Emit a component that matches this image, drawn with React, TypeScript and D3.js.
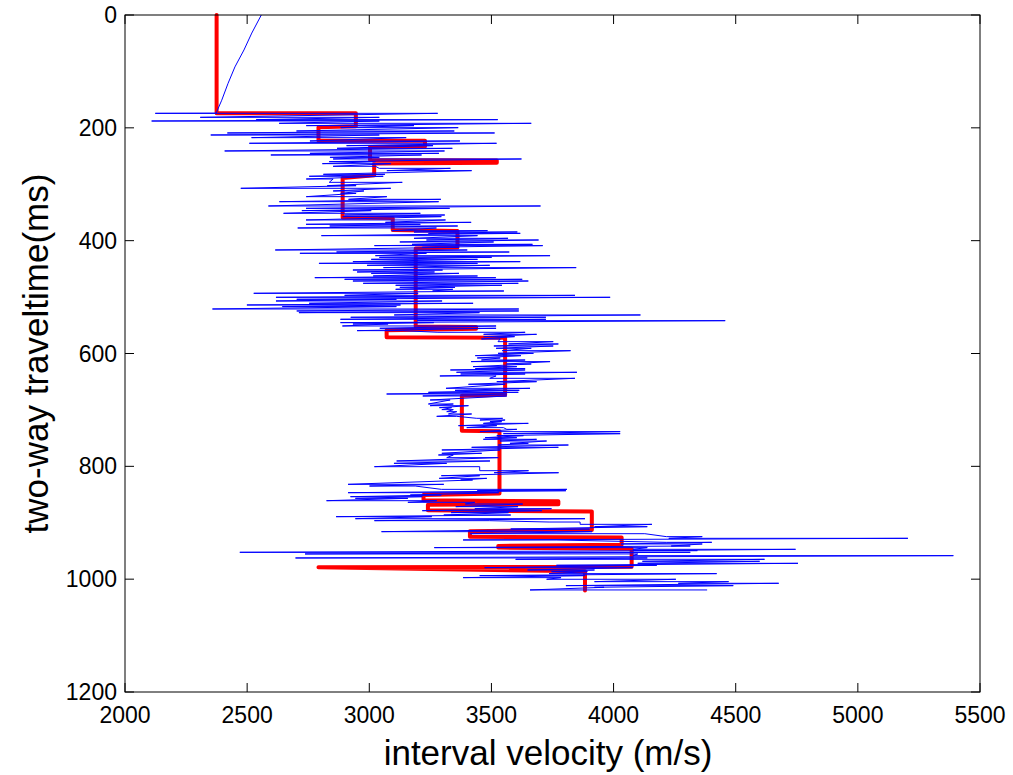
import React from 'react';
import * as d3 from 'd3';

const velTicks = [2000, 2500, 3000, 3500, 4000, 4500, 5000, 5500];
const timeTicks = [0, 200, 400, 600, 800, 1000, 1200];

// shallow part of the log, before the noisy section starts
const shallowTime = [0, 32, 62, 92, 121, 151, 174];
const shallowVel = [2558, 2519, 2487, 2450, 2422, 2396, 2373];

// noisy log: one swing per row -> [time, low vel, high vel]
const logSwings: number[][] = [
  [174.3, 2124, 3280], [181.4, 2308, 3041], [185.5, 2537, 3526], [187.9, 2109, 3041],
  [192.0, 2631, 3663], [196.1, 2742, 3183], [199.7, 2883, 3364], [205.6, 2702, 3348],
  [209.1, 2419, 3513], [212.7, 2351, 3041], [217.4, 2518, 3151], [223.3, 2757, 3371],
  [227.4, 2509, 3521], [231.6, 2907, 3261], [236.3, 2868, 3340], [241.0, 2408, 3308],
  [245.2, 2757, 3285], [248.1, 2597, 3214], [252.3, 2839, 3041], [255.2, 2852, 3623],
  [259.9, 2836, 3025], [263.5, 2808, 3088], [268.2, 2852, 3025], [271.8, 3041, 3332],
  [275.9, 3072, 3419], [282.4, 2812, 3064], [285.9, 2754, 3057], [290.7, 2742, 2852],
  [296.6, 2836, 3135], [302.5, 2828, 2946], [307.2, 2474, 3088], [311.9, 2852, 2978],
  [316.1, 2883, 2946], [322.0, 2742, 3072], [326.7, 2915, 3293], [330.9, 2632, 3284],
  [338.5, 2587, 3701], [342.7, 2741, 3329], [346.8, 2724, 3008], [351.5, 2649, 3209],
  [354.5, 2899, 3309], [357.4, 2891, 3295], [363.3, 2741, 3312], [367.5, 3066, 3417],
  [371.0, 2741, 3209], [374.0, 2838, 3362], [377.5, 2707, 3275], [382.3, 3092, 3484],
  [384.6, 3183, 3606], [387.0, 3242, 3618], [391.1, 2804, 3443], [395.8, 3183, 3568],
  [398.8, 3234, 3693], [402.3, 3125, 3509], [406.5, 3175, 3668], [408.8, 3021, 3710],
  [411.8, 3217, 3367], [416.5, 2615, 3401], [420.1, 2866, 3573], [422.4, 2716, 3234],
  [426.6, 3025, 3740], [429.5, 3041, 3501], [433.1, 3008, 3443], [437.2, 2933, 3618],
  [440.2, 2794, 3443], [443.7, 2991, 3493], [447.8, 3058, 3847], [452.0, 2933, 3300],
  [455.5, 2950, 3267], [457.9, 3008, 3367], [462.6, 3016, 3443], [465.6, 2777, 3518],
  [468.5, 2899, 3626], [471.5, 2933, 3651], [475.6, 2975, 3610], [479.1, 3108, 3543],
  [482.7, 3125, 3351], [486.2, 3108, 3342], [489.2, 3259, 3551], [493.3, 2527, 3200],
  [496.9, 2899, 3842], [500.4, 2618, 3986], [503.9, 2703, 3111], [506.9, 2618, 3298],
  [511.0, 2754, 3425], [514.0, 2499, 3128], [516.9, 2644, 3111], [521.1, 2358, 3612],
  [524.6, 2703, 3612], [527.6, 2712, 3451], [531.7, 3102, 4110], [535.8, 2924, 3723],
  [539.4, 2882, 3723], [541.8, 3196, 4457], [545.3, 2882, 3264], [547.7, 2933, 3077],
  [551.2, 2890, 3519], [555.3, 3043, 3519], [559.5, 2950, 3136], [562.4, 3281, 3638],
  [566.0, 3468, 3685], [570.1, 3468, 3595], [574.2, 3459, 3536], [579.0, 3527, 3753],
  [583.1, 3570, 3774], [586.7, 3510, 3753], [590.8, 3519, 3663], [595.0, 3544, 3824],
  [599.7, 3527, 3672], [603.8, 3434, 3621], [607.9, 3442, 3536], [611.5, 3459, 3638],
  [614.4, 3417, 3740], [618.6, 3561, 3663], [623.3, 3425, 3604], [626.8, 3434, 3638],
  [629.2, 3332, 3638], [633.3, 3357, 3850], [636.3, 3374, 3638], [639.8, 3289, 3519],
  [644.0, 3493, 3842], [649.9, 3522, 3685], [654.6, 3406, 3556], [661.7, 3314, 3658],
  [665.3, 3351, 3614], [668.8, 3242, 3610], [671.8, 3071, 3563], [675.3, 3219, 3563],
  [682.4, 3249, 3331], [689.5, 3242, 3344], [692.5, 3249, 3406], [696.0, 3287, 3337],
  [699.5, 3297, 3344], [703.1, 3317, 3358], [707.2, 3324, 3419], [711.4, 3276, 3358],
  [714.9, 3440, 3546], [717.9, 3453, 3556], [720.8, 3494, 3542], [723.8, 3467, 3651],
  [727.9, 3365, 3522], [731.4, 3399, 3549], [734.4, 3563, 3604], [738.5, 3453, 4027],
  [742.1, 3549, 4027], [745.6, 3522, 3631], [749.2, 3474, 3604], [752.1, 3467, 3685],
  [755.1, 3535, 3726], [759.2, 3576, 3651], [762.2, 3528, 3815], [766.3, 3419, 3774],
  [771.0, 3297, 3535], [776.9, 3297, 3460], [779.9, 3283, 3344], [784.6, 3317, 3528],
  [790.5, 3112, 3494], [794.7, 3101, 3317], [800.6, 3021, 3452], [807.7, 3452, 3652],
  [811.3, 3511, 3775], [816.6, 3295, 3452], [821.3, 3286, 3481], [824.2, 3374, 3423],
  [831.9, 2913, 3305], [834.9, 3001, 3188], [840.8, 3295, 3809], [843.2, 3442, 3805],
  [846.7, 2913, 3530], [850.8, 3168, 3295], [853.8, 2923, 3217], [856.7, 2943, 3158],
  [860.9, 2825, 3276], [863.8, 3158, 3432], [866.8, 3393, 3628], [871.5, 3354, 3609],
  [875.1, 3432, 3746], [878.6, 3217, 3707], [882.1, 3335, 3570], [886.3, 3305, 3579],
  [889.2, 2864, 3256], [892.8, 2943, 3883], [896.3, 3021, 3491], [898.7, 3736, 3863],
  [902.8, 3863, 4157], [907.0, 3922, 4138], [911.1, 3579, 3902], [915.8, 3050, 3912],
  [919.4, 3413, 4128], [924.6, 4216, 4363], [927.6, 4226, 5205], [930.5, 3384, 3765],
  [934.7, 4216, 4402], [937.6, 4030, 4363], [941.2, 4236, 4314], [944.1, 3266, 4138],
  [947.1, 4079, 4745], [949.4, 4079, 4343], [952.4, 2470, 4314], [955.3, 2737, 4099],
  [958.3, 4079, 5391], [962.4, 2698, 4138], [964.8, 3599, 4618], [968.3, 4118, 4598],
  [971.9, 4099, 4755], [975.4, 3766, 4177], [979.6, 3472, 4079], [983.7, 3648, 3922],
  [986.7, 3746, 3893], [990.2, 3736, 4422], [993.7, 3452, 3883], [997.3, 3384, 3785],
  [1000.2, 3726, 4255], [1004.4, 3922, 4471], [1007.3, 4265, 4676], [1011.5, 3805, 4490],
  [1014.4, 3922, 3961], [1019.1, 3658, 4383],
];

// blocky interval velocity (red)
const blockTime = [
  0, 174, 174, 197, 199, 223, 223, 233, 234, 257, 258, 262, 263, 284, 289, 359, 360, 381,
  383, 412, 414, 552, 553, 556, 559, 571, 572, 673, 675, 737, 738, 848, 851, 860, 862, 867,
  868, 878, 880, 913, 915, 925, 926, 939, 941, 944, 946, 978, 979, 986, 1020,
];
const blockVel = [
  2375, 2375, 2945, 2945, 2792, 2792, 3228, 3228, 3003, 3003, 3522, 3522, 3020, 3020, 2891,
  2891, 3096, 3096, 3361, 3361, 3190, 3190, 3437, 3437, 3071, 3071, 3556, 3556, 3379, 3379,
  3533, 3533, 3222, 3222, 3774, 3774, 3240, 3240, 3911, 3911, 3412, 3412, 4033, 4033, 3528,
  3528, 4074, 4074, 2792, 3883, 3883,
];

const font = '"Liberation Sans", Arial, Helvetica, sans-serif';

export default function App() {
  const width = 1013;
  const height = 775;
  const margin = { top: 15, right: 33, bottom: 83, left: 125 };
  const x0 = margin.left;
  const x1 = width - margin.right;
  const y0 = margin.top;
  const y1 = height - margin.bottom;

  const x = d3.scaleLinear().domain([2000, 5500]).range([x0, x1]);
  const y = d3.scaleLinear().domain([0, 1200]).range([y0, y1]);

  const line = d3.line<[number, number]>()
    .x(d => x(d[0]))
    .y(d => y(d[1]));

  // log trace: smooth ramp, then each swing goes low -> high
  const logPts: [number, number][] = shallowTime.map((t, i) => [shallowVel[i], t]);
  logSwings.forEach(s => {
    logPts.push([s[1], s[0]]);
    logPts.push([s[2], s[0]]);
  });

  const blockPts: [number, number][] = blockTime.map((t, i) => [blockVel[i], t]);

  const tickLen = 9;

  return (
    <svg
      width={width}
      height={height}
      style={{ position: 'absolute', left: 0, top: 0, background: '#fff' }}
    >
      <rect x={0} y={0} width={width} height={height} fill="#fff" />

      {/* red blocky velocity */}
      <path
        d={line(blockPts) || ''}
        fill="none"
        stroke="#ff0000"
        strokeWidth={4}
        strokeLinejoin="round"
        strokeLinecap="round"
      />

      {/* blue log */}
      <path
        d={line(logPts) || ''}
        fill="none"
        stroke="#0000ff"
        strokeWidth={1}
        strokeLinejoin="round"
      />

      {/* box */}
      <rect x={x0} y={y0} width={x1 - x0} height={y1 - y0} fill="none" stroke="#000" strokeWidth={1} />

      {/* x ticks */}
      {velTicks.map(v => (
        <g key={'x' + v}>
          <line x1={x(v)} x2={x(v)} y1={y1} y2={y1 - tickLen} stroke="#000" />
          <line x1={x(v)} x2={x(v)} y1={y0} y2={y0 + tickLen} stroke="#000" />
          <text x={x(v)} y={723} textAnchor="middle" fontFamily={font} fontSize={23}>
            {v}
          </text>
        </g>
      ))}

      {/* y ticks */}
      {timeTicks.map(t => (
        <g key={'y' + t}>
          <line x1={x0} x2={x0 + tickLen} y1={y(t)} y2={y(t)} stroke="#000" />
          <line x1={x1} x2={x1 - tickLen} y1={y(t)} y2={y(t)} stroke="#000" />
          <text
            x={117}
            y={y(t)}
            textAnchor="end"
            dominantBaseline="central"
            fontFamily={font}
            fontSize={23}
          >
            {t}
          </text>
        </g>
      ))}

      <text x={548} y={765} textAnchor="middle" fontFamily={font} fontSize={35}>
        interval velocity (m/s)
      </text>
      <text
        transform={`translate(48, ${(y0 + y1) / 2}) rotate(-90)`}
        textAnchor="middle"
        fontFamily={font}
        fontSize={35}
      >
        two-way traveltime(ms)
      </text>
    </svg>
  );
}
